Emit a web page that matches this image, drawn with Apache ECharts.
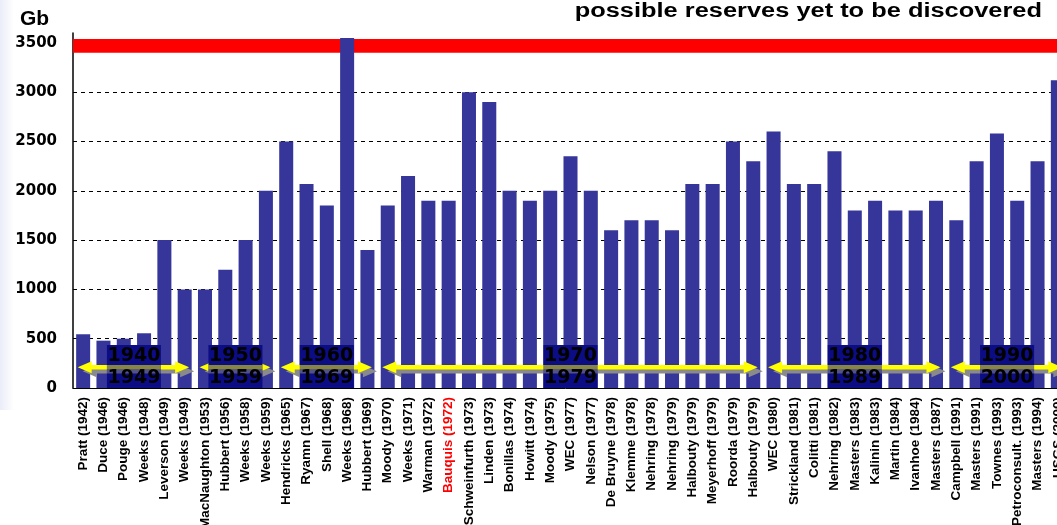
<!DOCTYPE html>
<html>
<head>
<meta charset="utf-8">
<script src="https://cdn.jsdelivr.net/npm/echarts@6/dist/echarts.min.js"></script>
<style>
  html, body { margin: 0; padding: 0; background: #ffffff; }
  #chart { width: 1057px; height: 525px; }
</style>
</head>
<body>
<div id="chart"></div>
<script>
// Published estimates of ultimate recoverable oil, in Gb
const categories = [
  'Pratt (1942)', 'Duce (1946)', 'Pouge (1946)', 'Weeks (1948)', 'Leverson (1949)',
  'Weeks (1949)', 'MacNaughton (1953)', 'Hubbert (1956)', 'Weeks (1958)', 'Weeks (1959)',
  'Hendricks (1965)', 'Ryamn (1967)', 'Shell (1968)', 'Weeks (1968)', 'Hubbert (1969)',
  'Moody (1970)', 'Weeks (1971)', 'Warman (1972)', 'Bauquis (1972)', 'Schweinfurth (1973)',
  'Linden (1973)', 'Bonillas (1974)', 'Howitt (1974)', 'Moody (1975)', 'WEC (1977)',
  'Nelson (1977)', 'De Bruyne (1978)', 'Klemme (1978)', 'Nehring (1978)', 'Nehring (1979)',
  'Halbouty (1979)', 'Meyerhoff (1979)', 'Roorda (1979)', 'Halbouty (1979)', 'WEC (1980)',
  'Strickland (1981)', 'Colitti (1981)', 'Nehring (1982)', 'Masters (1983)', 'Kalinin (1983)',
  'Martin (1984)', 'Ivanhoe (1984)', 'Masters (1987)', 'Campbell (1991)', 'Masters (1991)',
  'Townes (1993)', 'Petroconsult. (1993)', 'Masters (1994)', 'USGS (2000)'
];

const estimates = [
  545, 480, 500, 555, 1500,
  1000, 1000, 1200, 1500, 2000,
  2500, 2070, 1850, 3550, 1400,
  1850, 2150, 1900, 1900, 3000,
  2900, 2000, 1900, 2000, 2350,
  2000, 1600, 1700, 1700, 1600,
  2070, 2070, 2500, 2300, 2600,
  2070, 2070, 2400, 1800, 1900,
  1800, 1800, 1900, 1700, 2300,
  2580, 1900, 2300, 3120
];

const highlightLabel = 'Bauquis (1972)';

// Reserve band (Gb)
const reserveBandLow = 3400;
const reserveBandHigh = 3540;

// Decade groupings: first/last category index and the two year labels
const decadeFirst = [0, 6, 10, 15, 34, 43];
const decadeLast = [5, 9, 14, 33, 42, 48];
const decadeTop = ['1940', '1950', '1960', '1970', '1980', '1990'];
const decadeBottom = ['1949', '1959', '1969', '1979', '1989', '2000'];

const yTicks = [0, 500, 1000, 1500, 2000, 2500, 3000, 3500];

const arrowLevel = 210;

const chart = echarts.init(document.getElementById('chart'), null, { renderer: 'canvas' });

function renderDecade(params, api) {
  const first = api.value(0);
  const last = api.value(1);
  const k = api.value(2);
  const band = api.size([1, 0])[0];
  const pA = api.coord([first, arrowLevel]);
  const pB = api.coord([last, arrowLevel]);
  const base = api.coord([first, 0])[1];
  const y = pA[1];
  const L = pA[0] - 0.27 * band;
  const R = pB[0] + 0.22 * band;
  const hl = 14, hh = 6, st = 2.2;
  const arrowPts = function (dx, dy) {
    return [
      [L + dx, y + dy], [L + hl + dx, y - hh + dy], [L + hl + dx, y - st + dy],
      [R - hl + dx, y - st + dy], [R - hl + dx, y - hh + dy], [R + dx, y + dy],
      [R - hl + dx, y + hh + dy], [R - hl + dx, y + st + dy], [L + hl + dx, y + st + dy],
      [L + hl + dx, y + hh + dy]
    ];
  };
  const cx = (pA[0] + pB[0]) / 2;
  const bw = 54, bh = 43;
  const bx = cx - bw / 2, by = base - bh;
  const textStyle = {
    font: 'bold 19px "DejaVu Sans"',
    fill: '#000000',
    align: 'center',
    verticalAlign: 'middle',
    shadowColor: 'rgba(170,170,185,0.9)',
    shadowOffsetX: 1,
    shadowOffsetY: 1,
    shadowBlur: 0
  };
  return {
    type: 'group',
    children: [
      { type: 'polygon', shape: { points: arrowPts(5, 4) }, style: { fill: '#8a8a8a' } },
      { type: 'polygon', shape: { points: arrowPts(0, 0) }, style: { fill: '#ffff00' } },
      { type: 'rect', shape: { x: bx, y: by, width: bw, height: bh }, style: { fill: '#0c0c84' } },
      { type: 'rect', shape: { x: bx, y: y - st, width: bw, height: 2 * st }, style: { fill: 'rgba(255,255,0,0.5)' } },
      { type: 'rect', shape: { x: bx, y: y + st, width: bw, height: 4 }, style: { fill: 'rgba(140,140,140,0.55)' } },
      { type: 'text', style: Object.assign({ text: decadeTop[k], x: cx, y: base - 32 }, textStyle) },
      { type: 'text', style: Object.assign({ text: decadeBottom[k], x: cx, y: base - 10 }, textStyle) }
    ]
  };
}

const option = {
  animation: false,
  backgroundColor: '#ffffff',
  grid: { left: 73, right: -11, top: 33, bottom: 137, containLabel: false, outerBoundsMode: 'none' },
  graphic: [
    {
      type: 'rect', left: 0, top: 0, z: -10,
      shape: { width: 14, height: 410 },
      style: {
        fill: new echarts.graphic.LinearGradient(0, 0, 1, 0, [
          { offset: 0, color: '#eaecf8' }, { offset: 1, color: '#ffffff' }
        ])
      }
    },
    {
      type: 'text', x: 1042, y: 1, scaleX: 1.27, z: 20,
      style: {
        text: 'possible reserves yet to be discovered',
        align: 'right', verticalAlign: 'top',
        font: 'bold 20px "Liberation Sans"', fill: '#000000'
      }
    },
    {
      type: 'text', x: 20, y: 9, z: 20,
      style: { text: 'Gb', align: 'left', verticalAlign: 'top', font: 'bold 21px "Liberation Sans"', fill: '#000000' }
    }
  ],
  xAxis: {
    type: 'category',
    data: categories.map(function (c) {
      return c === highlightLabel ? { value: c, textStyle: { color: '#ff0000' } } : c;
    }),
    axisTick: { show: false },
    axisLine: { lineStyle: { color: '#000000', width: 1 } },
    axisLabel: {
      interval: 0, rotate: 90, margin: 9,
      fontSize: 13.5, fontWeight: 'bold', fontFamily: '"Liberation Sans", Arial, sans-serif',
      color: '#000000'
    }
  },
  yAxis: {
    type: 'value',
    min: yTicks[0],
    max: 3600,
    interval: yTicks[1] - yTicks[0],
    axisLine: { show: true, lineStyle: { color: '#000000', width: 1.5 } },
    axisTick: { show: false },
    axisLabel: {
      showMaxLabel: false, margin: 16,
      formatter: function (v) { return String(v); },
      fontSize: 15, fontWeight: 'bold', fontFamily: '"DejaVu Sans", sans-serif',
      color: '#000000'
    },
    splitLine: {
      show: true, showMaxLine: false,
      lineStyle: { color: '#000000', width: 1, type: [4, 4] }
    }
  },
  series: [
    {
      type: 'line',
      data: [],
      z: 1,
      silent: true,
      markArea: {
        silent: true,
        itemStyle: { color: '#ff0000', opacity: 1 },
        data: [[{ yAxis: reserveBandLow }, { yAxis: reserveBandHigh }]]
      }
    },
    {
      type: 'bar',
      data: estimates,
      barWidth: '69%',
      z: 3,
      itemStyle: { color: '#35359a' }
    },
    {
      type: 'custom',
      z: 6,
      silent: true,
      clip: false,
      encode: { x: [0, 1] },
      data: decadeFirst.map(function (f, i) { return [f, decadeLast[i], i]; }),
      renderItem: renderDecade
    }
  ]
};

chart.setOption(option);
</script>
</body>
</html>
